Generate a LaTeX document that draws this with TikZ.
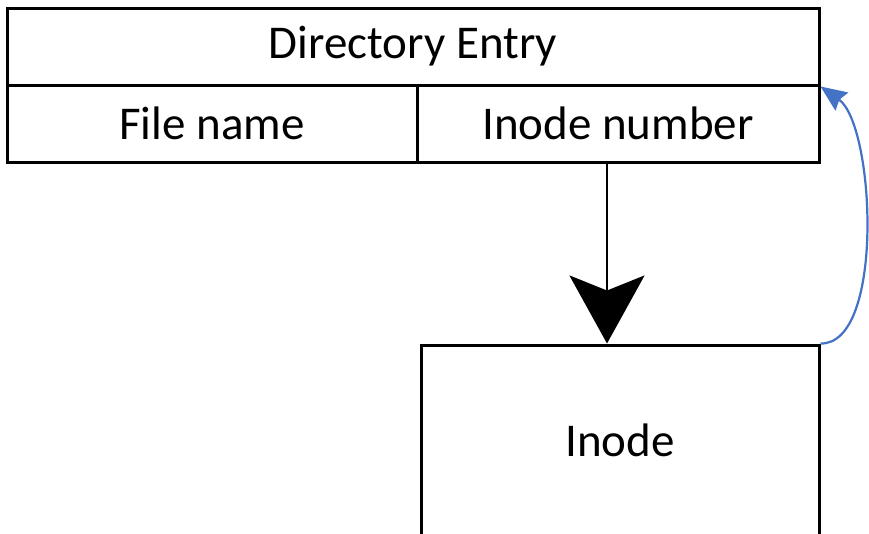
\documentclass[tikz,border=0pt]{standalone}
\usepackage{fontspec}
\setmainfont{Carlito}
\usetikzlibrary{arrows.meta}
\definecolor{linkblue}{HTML}{4472C4}
\begin{document}
\begin{tikzpicture}[x=1pt,y=-1pt,
  cell/.style={draw=black,line width=3pt,inner sep=0pt,
    font=\fontsize{47}{56}\selectfont},
  down/.style={line width=2.6pt,-{Stealth[length=68pt,width=75pt,inset=15pt]}},
  back/.style={draw=linkblue,line width=2.2pt,-{Stealth[length=26pt,width=22pt,inset=3pt]}}]
  \clip (0,0) rectangle (869,533);
  \fill[white] (0,0) rectangle (869,533);
  % directory entry table
  \node[cell,minimum width=812pt,minimum height=77pt] (dir) at (413,46.5) {Directory Entry};
  \node[cell,minimum width=410pt,minimum height=77pt] (fname) at (212,123.5) {File name};
  \node[cell,minimum width=402pt,minimum height=77pt] (inum) at (618,123.5) {Inode number};
  % inode block
  \node[cell,minimum width=398pt,minimum height=190pt] (inode) at (620,440) {Inode};
  % links
  \coordinate (start) at (607,162);
  \draw[down] (start) -- (start |- inode.north);
  \draw[back] (inode.north east) .. controls (885,345) and (875,125) .. (dir.south east);
\end{tikzpicture}
\end{document}
